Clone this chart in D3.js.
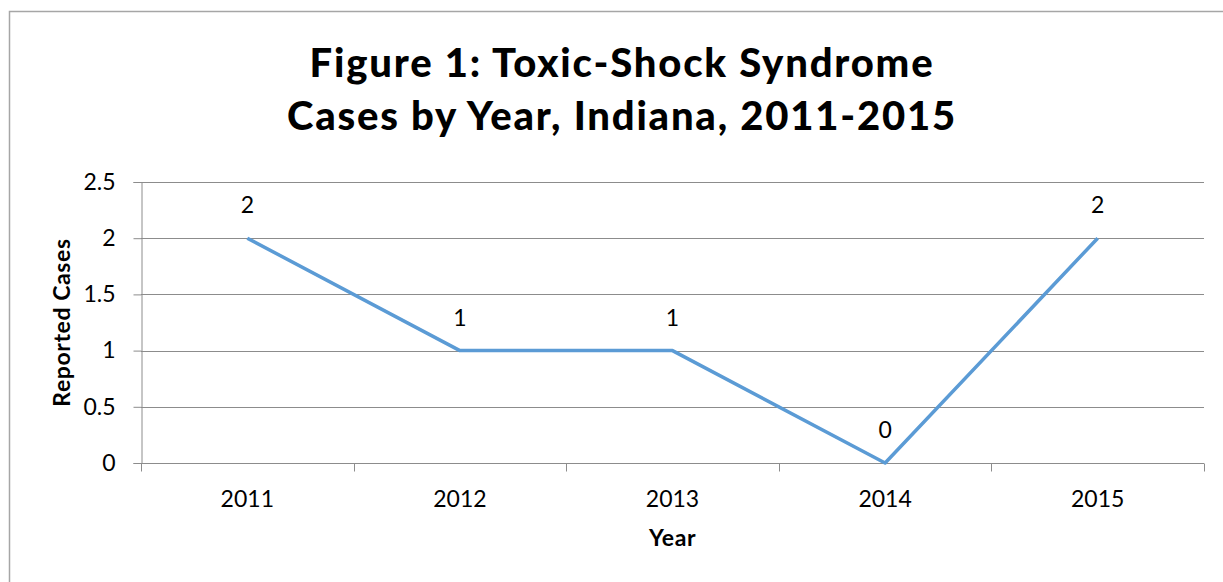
<!DOCTYPE html>
<html>
<head>
<meta charset="utf-8">
<script src="https://cdnjs.cloudflare.com/ajax/libs/d3/7.8.5/d3.min.js"></script>
<style>
	body { margin: 0; background: #fff; }
	svg { display: block; font-family: Lato, "Open Sans", sans-serif; }
</style>
</head>
<body>
<svg width="1223" height="582"></svg>
<script>
// data
var years = ["2011", "2012", "2013", "2014", "2015"];
var cases = [2, 1, 1, 0, 2];
var yTicks = [0, 0.5, 1, 1.5, 2, 2.5];
var titleLines = ["Figure 1: Toxic-Shock Syndrome", "Cases by Year, Indiana, 2011-2015"];

var svg = d3.select("svg");

// outer chart border (runs off the picture on right and bottom)
svg.append("rect")
	.attr("x", 9.5).attr("y", 11.5)
	.attr("width", 1400).attr("height", 800)
	.attr("fill", "none")
	.attr("stroke", "#a6a6a6")
	.attr("stroke-width", 1.5);

var plotLeft = 141, plotRight = 1204, plotTop = 182, plotBottom = 463;
var gridColor = "#8c8c8c";

var x = d3.scaleBand().domain(years).range([plotLeft, plotRight]);
var y = d3.scaleLinear().domain([0, 2.5]).range([plotBottom, plotTop]);

// title
svg.append("text")
	.attr("text-anchor", "middle")
	.attr("font-size", 40).attr("font-weight", 900)
	.attr("letter-spacing", 1.8)
	.selectAll("tspan")
	.data(titleLines)
	.enter().append("tspan")
	.attr("x", 622)
	.attr("y", function(d, i) { return 77 + i * 53; })
	.text(function(d) { return d; });

// gridlines
svg.append("g")
	.selectAll("line")
	.data(yTicks.slice(1))
	.enter().append("line")
	.attr("x1", plotLeft).attr("x2", plotRight)
	.attr("y1", function(d) { return Math.round(y(d)) + 0.5; })
	.attr("y2", function(d) { return Math.round(y(d)) + 0.5; })
	.attr("stroke", gridColor);

// y axis
var yAxis = svg.append("g")
	.attr("transform", "translate(" + (plotLeft + 0.5) + ",0)")
	.call(d3.axisLeft(y).tickValues(yTicks).tickSize(8).tickPadding(18)
		.tickFormat(function(d) { return d; }));
yAxis.attr("font-family", null).attr("font-size", null);
yAxis.select(".domain").attr("stroke", gridColor);
yAxis.selectAll(".tick line").attr("stroke", gridColor);
yAxis.selectAll(".tick text").attr("font-size", 23).attr("fill", "#000");

// x axis (ticks between categories)
var xAxisG = svg.append("g").attr("transform", "translate(0," + (plotBottom + 0.5) + ")");
xAxisG.append("line")
	.attr("x1", plotLeft).attr("x2", plotRight)
	.attr("stroke", gridColor);
xAxisG.selectAll(".sep")
	.data(years.concat(["end"]))
	.enter().append("line")
	.attr("class", "sep")
	.attr("x1", function(d, i) { return Math.round(i < years.length ? x(d) : plotRight) + 0.5; })
	.attr("x2", function(d, i) { return Math.round(i < years.length ? x(d) : plotRight) + 0.5; })
	.attr("y1", 0).attr("y2", 8)
	.attr("stroke", gridColor);
xAxisG.selectAll(".lbl")
	.data(years)
	.enter().append("text")
	.attr("class", "lbl")
	.attr("x", function(d) { return x(d) + x.bandwidth() / 2; })
	.attr("y", 43.5)
	.attr("text-anchor", "middle")
	.attr("font-size", 23)
	.text(function(d) { return d; });

// axis titles
svg.append("text")
	.attr("transform", "translate(70," + ((plotTop + plotBottom) / 2) + ") rotate(-90)")
	.attr("text-anchor", "middle")
	.attr("font-size", 23).attr("font-weight", "bold")
	.attr("letter-spacing", 0.6)
	.text("Reported Cases");
svg.append("text")
	.attr("x", x("2013") + x.bandwidth() / 2).attr("y", 546)
	.attr("text-anchor", "middle")
	.attr("font-size", 23).attr("font-weight", "bold")
	.attr("letter-spacing", 0.6)
	.text("Year");

// line
var pts = years.map(function(d, i) { return [x(d) + x.bandwidth() / 2, y(cases[i])]; });
svg.append("path")
	.attr("d", d3.line()(pts))
	.attr("fill", "none")
	.attr("stroke", "#5b9bd5")
	.attr("stroke-width", 3.5)
	.attr("stroke-linejoin", "round");

// data labels
svg.append("g")
	.selectAll("text")
	.data(pts)
	.enter().append("text")
	.attr("x", function(d) { return d[0]; })
	.attr("y", function(d) { return d[1] - 25; })
	.attr("text-anchor", "middle")
	.attr("font-size", 23)
	.text(function(d, i) { return cases[i]; });
</script>
</body>
</html>
